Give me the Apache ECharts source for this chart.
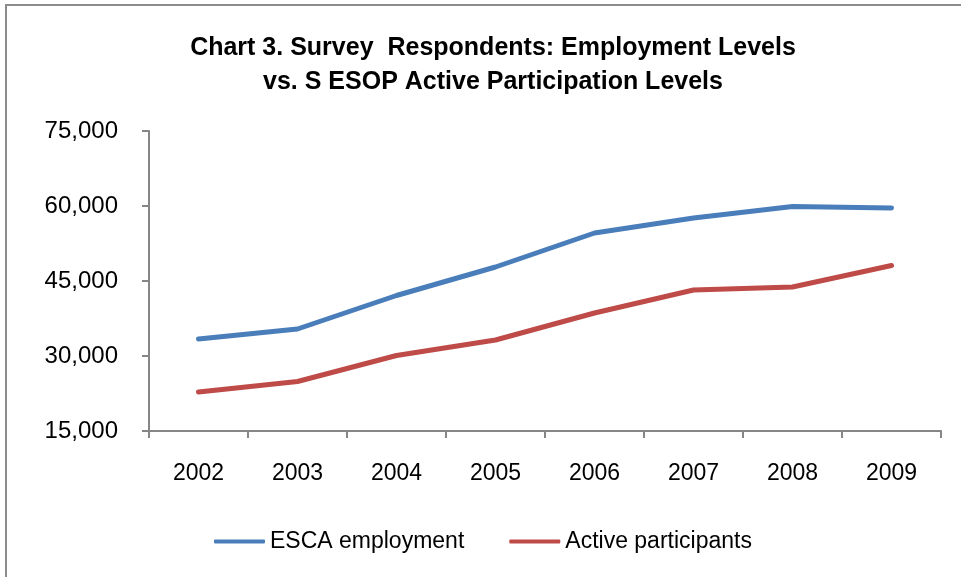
<!DOCTYPE html>
<html>
<head>
<meta charset="utf-8">
<script src="https://cdn.jsdelivr.net/npm/echarts@6/dist/echarts.min.js"></script>
<style>
  html, body { margin: 0; padding: 0; background: #fff; }
  #frame { position: absolute; left: 5px; top: 4px; width: 960px; height: 580px; border: 2px solid #8c8c8c; box-sizing: border-box; }
  #chart { position: absolute; left: 0; top: 0; width: 961px; height: 577px; }
</style>
</head>
<body>
<div id="frame"></div>
<div id="chart"></div>
<script>
const years = ['2002', '2003', '2004', '2005', '2006', '2007', '2008', '2009'];
const escaEmployment = [33400, 35400, 42100, 47800, 54600, 57600, 59900, 59600];
const activeParticipants = [22800, 24900, 30100, 33200, 38600, 43200, 43800, 48100];

const font = '"Liberation Sans", sans-serif';
const chart = echarts.init(document.getElementById('chart'));
chart.setOption({
  animation: false,
  title: {
    text: 'Chart 3. Survey  Respondents: Employment Levels\nvs. S ESOP Active Participation Levels',
    left: 488,
    textAlign: 'center',
    top: 26,
    textStyle: { fontFamily: font, fontSize: 25, fontWeight: 'bold', color: '#000', lineHeight: 34 }
  },
  legend: {
    bottom: 19,
    left: 209,
    itemGap: 45,
    itemWidth: 51,
    itemHeight: 4,
    icon: 'roundRect',
    textStyle: { fontFamily: font, fontSize: 23, color: '#000' },
    data: ['ESCA employment', 'Active participants']
  },
  grid: { left: 149, right: 20, top: 131, bottom: 146 },
  xAxis: {
    type: 'category',
    data: years,
    boundaryGap: true,
    axisLine: { lineStyle: { color: '#868686', width: 2 } },
    axisTick: { show: true, length: 7, lineStyle: { color: '#868686', width: 2 } },
    axisLabel: { fontFamily: font, fontSize: 23, color: '#000', margin: 31 }
  },
  yAxis: {
    type: 'value',
    min: 15000,
    max: 75000,
    interval: 15000,
    axisLine: { show: true, lineStyle: { color: '#868686', width: 2 } },
    axisTick: { show: true, length: 7, lineStyle: { color: '#868686', width: 2 } },
    splitLine: { show: false },
    axisLabel: {
      fontFamily: font, fontSize: 24, color: '#000', margin: 31,
      formatter: v => v.toLocaleString('en-US')
    }
  },
  series: [
    {
      name: 'ESCA employment',
      type: 'line',
      data: escaEmployment,
      symbol: 'none',
      lineStyle: { color: '#4a7ebb', width: 5, cap: 'round', join: 'round' },
      itemStyle: { color: '#4a7ebb' }
    },
    {
      name: 'Active participants',
      type: 'line',
      data: activeParticipants,
      symbol: 'none',
      lineStyle: { color: '#be4b48', width: 5, cap: 'round', join: 'round' },
      itemStyle: { color: '#be4b48' }
    }
  ]
});
</script>
</body>
</html>
